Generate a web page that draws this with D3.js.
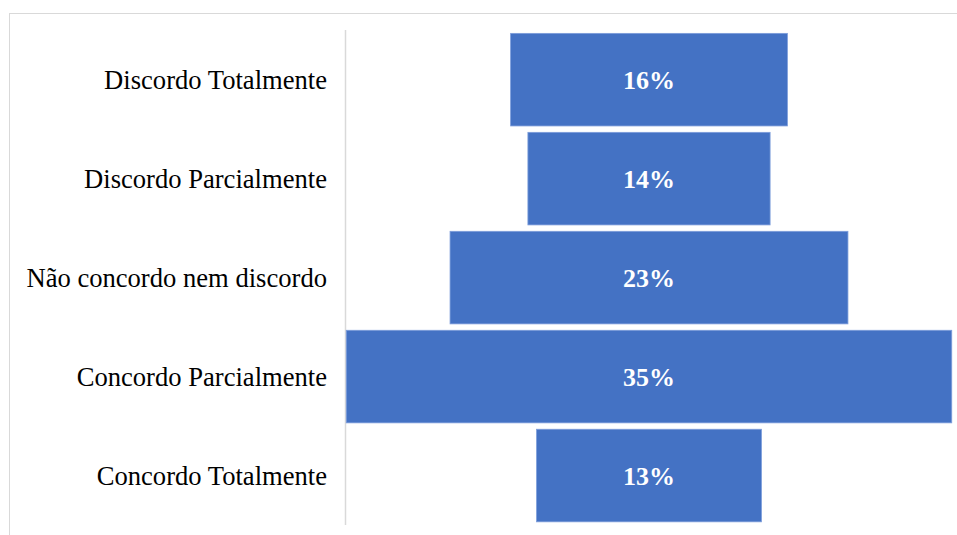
<!DOCTYPE html>
<html>
<head>
<meta charset="utf-8">
<script src="https://cdn.jsdelivr.net/npm/d3@7/dist/d3.min.js"></script>
<style>
  html, body { margin: 0; padding: 0; background: #fff; }
  svg { display: block; }
</style>
</head>
<body>
<svg id="chart" width="957" height="535"></svg>
<script>
// Survey answers, top to bottom, and the share of respondents for each
const categories = [
  "Discordo Totalmente",
  "Discordo Parcialmente",
  "Não concordo nem discordo",
  "Concordo Parcialmente",
  "Concordo Totalmente"
];
const values = [16, 14, 23, 35, 13];
const valueLabels = ["16%", "14%", "23%", "35%", "13%"];

const svg = d3.select("#chart");
const W = 957, H = 535;

// outer frame of the chart area
svg.append("rect")
  .attr("x", 9.5).attr("y", 13.5)
  .attr("width", W + 20).attr("height", H + 20)
  .attr("fill", "none")
  .attr("stroke", "#d9d9d9")
  .attr("stroke-width", 1);

const axisX = 345.5;
const centerX = 649;

const y = d3.scaleBand()
  .domain(categories)
  .range([30.2, 525])
  .paddingInner(0.0645)
  .paddingOuter(0.032);

// width of a bar, centred on the funnel axis
const w = d3.scaleLinear().domain([0, 35]).range([0, 605.5]);

// vertical category axis line
svg.append("line")
  .attr("x1", axisX).attr("x2", axisX)
  .attr("y1", 30).attr("y2", 525)
  .attr("stroke", "#d9d9d9")
  .attr("stroke-width", 1.5);

const rows = categories.map((c, i) => ({ c, v: values[i], label: valueLabels[i] }));

svg.append("g").selectAll("rect")
  .data(rows)
  .join("rect")
  .attr("x", d => centerX - w(d.v) / 2)
  .attr("y", d => y(d.c))
  .attr("width", d => w(d.v))
  .attr("height", y.bandwidth())
  .attr("fill", "#4472C4")
  .attr("stroke", "#7d9ddb")
  .attr("stroke-width", 0.8);

// value labels inside the bars
svg.append("g").selectAll("text")
  .data(rows)
  .join("text")
  .attr("x", centerX)
  .attr("y", d => y(d.c) + y.bandwidth() / 2 + 9.5)
  .attr("text-anchor", "middle")
  .attr("font-family", "'Liberation Serif', 'Times New Roman', serif")
  .attr("font-weight", "bold")
  .attr("font-size", 26)
  .attr("fill", "#ffffff")
  .text(d => d.label);

// category labels to the left of the axis
svg.append("g").selectAll("text")
  .data(rows)
  .join("text")
  .attr("x", 327)
  .attr("y", d => y(d.c) + y.bandwidth() / 2 + 9.5)
  .attr("text-anchor", "end")
  .attr("font-family", "'Liberation Serif', 'Times New Roman', serif")
  .attr("font-size", 26.6)
  .attr("fill", "#000000")
  .text(d => d.c);
</script>
</body>
</html>
